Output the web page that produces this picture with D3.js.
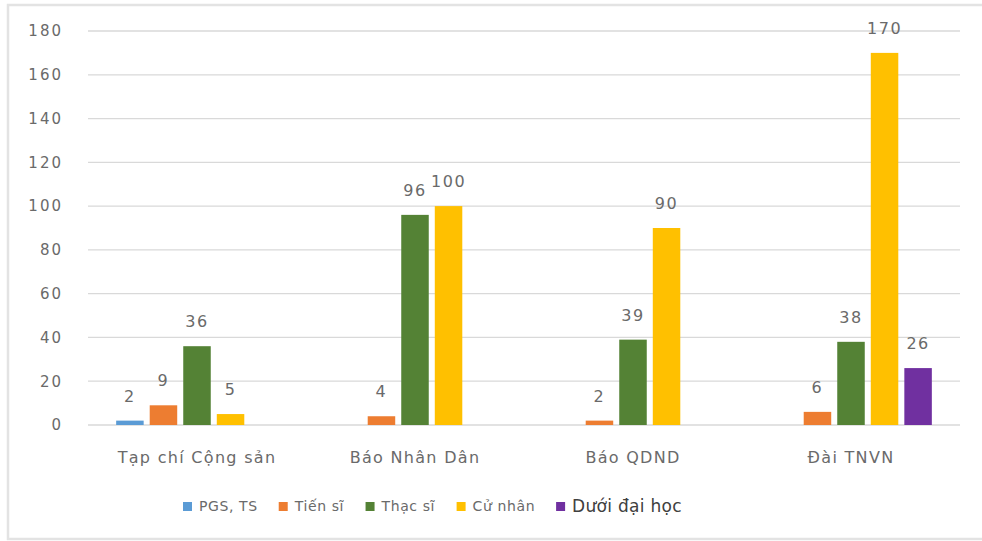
<!DOCTYPE html>
<html>
<head>
<meta charset="utf-8">
<script src="https://cdn.jsdelivr.net/npm/d3@7"></script>
<style>
  html, body { margin: 0; padding: 0; background: #fff; }
  svg text { font-family: "DejaVu Sans", "Open Sans", sans-serif; }
</style>
</head>
<body>
<svg id="chart" width="982" height="541"></svg>
<script>
const categories = ["Tạp chí Cộng sản", "Báo Nhân Dân", "Báo QDND", "Đài TNVN"];
const seriesNames = ["PGS, TS", "Tiến sĩ", "Thạc sĩ", "Cử nhân", "Dưới đại học"];
const seriesColors = ["#5B9BD5", "#ED7D31", "#548235", "#FFC000", "#7030A0"];
const pgsTs      = [2, 0, 0, 0];
const tienSi     = [9, 4, 2, 6];
const thacSi     = [36, 96, 39, 38];
const cuNhan     = [5, 100, 90, 170];
const duoiDaiHoc = [0, 0, 0, 26];
const yTicks = [0, 20, 40, 60, 80, 100, 120, 140, 160, 180];

const seriesValues = [pgsTs, tienSi, thacSi, cuNhan, duoiDaiHoc];

(function () {
const svg = d3.select("#chart");
const textColor = "#6a6a6a";
const gridColor = "#d9d9d9";

// chart border
svg.append("rect")
  .attr("x", 8).attr("y", 5).attr("width", 990).attr("height", 534)
  .attr("fill", "#fff").attr("stroke", "#e3e3e3").attr("stroke-width", 2.5);

const pLeft = 88, pRight = 960, pTop = 31, pBottom = 425;

const y = d3.scaleLinear().domain([0, 180]).range([pBottom, pTop]);
const x0 = d3.scaleBand().domain(categories).range([pLeft, pRight])
  .paddingInner(0.243).paddingOuter(0.1215);
const x1 = d3.scaleBand().domain(seriesNames).range([0, x0.bandwidth()])
  .paddingInner(0.18).paddingOuter(0.05);

// gridlines
svg.append("g").selectAll("line").data(yTicks).join("line")
  .attr("x1", pLeft).attr("x2", pRight)
  .attr("y1", d => y(d)).attr("y2", d => y(d))
  .attr("stroke", gridColor).attr("stroke-width", 1.3);

// y axis labels
const yAxis = d3.axisLeft(y).tickValues(yTicks).tickSize(0).tickPadding(0);
const gy = svg.append("g").attr("transform", `translate(63,0)`).call(yAxis);
gy.select(".domain").remove();
gy.selectAll("text").attr("fill", textColor).style("font-size", "15px")
  .style("font-family", "DejaVu Sans").attr("letter-spacing", "2px");

// bars
const data = categories.map((c, i) => ({
  cat: c,
  vals: seriesNames.map((s, j) => ({ s, j, v: seriesValues[j][i] }))
}));

const groups = svg.append("g").selectAll("g").data(data).join("g")
  .attr("transform", d => `translate(${x0(d.cat)},0)`);

groups.selectAll("rect").data(d => d.vals.filter(v => v.v > 0)).join("rect")
  .attr("x", d => x1(d.s))
  .attr("width", x1.bandwidth())
  .attr("y", d => y(d.v))
  .attr("height", d => y(0) - y(d.v))
  .attr("fill", d => seriesColors[d.j]);

groups.selectAll("text").data(d => d.vals.filter(v => v.v > 0)).join("text")
  .attr("x", d => x1(d.s) + x1.bandwidth() / 2)
  .attr("y", d => y(d.v) - 19)
  .attr("text-anchor", "middle")
  .attr("fill", textColor)
  .style("font-size", "16px")
  .attr("letter-spacing", "1.5px")
  .text(d => d.v);

// x axis labels
const xAxis = d3.axisBottom(x0).tickSize(0).tickPadding(0);
const gx = svg.append("g").attr("transform", `translate(0,${pBottom + 38})`).call(xAxis);
gx.select(".domain").remove();
gx.selectAll("text").attr("fill", textColor).style("font-size", "16px")
  .style("font-family", "DejaVu Sans").attr("dy", 0).attr("letter-spacing", "1.3px");

// legend
const legend = svg.append("g");
const items = legend.selectAll("g").data(seriesNames).join("g");
items.append("rect").attr("width", 9).attr("height", 9).attr("y", -8)
  .attr("fill", (d, i) => seriesColors[i]);
items.append("text").attr("x", 16).attr("y", 0)
  .attr("fill", (d, i) => i === 4 ? "#404040" : textColor)
  .style("font-size", (d, i) => i === 4 ? "17px" : "14px")
  .attr("letter-spacing", (d, i) => i === 4 ? "0.3px" : "0.6px")
  .attr("dy", "0.1em")
  .text(d => d);
let lx = 0;
const gap = 21;
const widths = [];
items.each(function () { widths.push(this.getBBox().width); });
const start = 183;
items.attr("transform", (d, i) => {
  const t = `translate(${start + lx},510)`;
  lx += widths[i] + gap;
  return t;
});
})();
</script>
</body>
</html>
